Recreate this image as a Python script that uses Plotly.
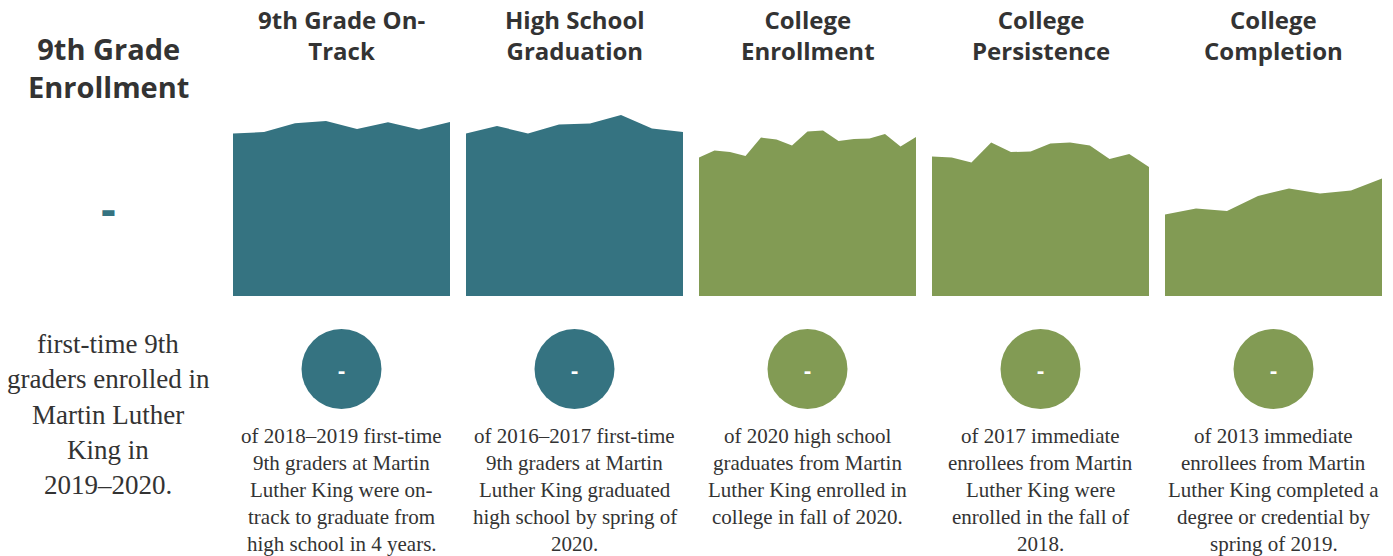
import plotly.graph_objects as go

W, H = 1393, 556

titles = [["9th Grade On-", "Track"], ["High School", "Graduation"], ["College", "Enrollment"],
          ["College", "Persistence"], ["College", "Completion"]]
on_track = [81.2, 82.0, 86.4, 87.5, 83.5, 86.9, 83.2, 87.0]
hs_grad = [81.2, 85.0, 81.3, 85.8, 86.3, 90.5, 83.8, 82.0]
col_enroll = [69.3, 72.8, 72.0, 70.0, 79.2, 78.3, 75.2, 82.2, 82.7, 77.5, 78.5, 78.7, 81.0, 74.8, 79.5]
col_persist = [69.7, 69.3, 66.7, 76.7, 72.0, 72.2, 76.2, 76.8, 75.2, 68.5, 71.0, 64.5]
col_complete = [40.8, 43.8, 42.5, 50.0, 53.8, 51.2, 52.8, 58.7]
series = [on_track, hs_grad, col_enroll, col_persist, col_complete]
circle_values = ["-", "-", "-", "-", "-"]
descriptions = [
    ["of 2018–2019 first-time", "9th graders at Martin", "Luther King were on-", "track to graduate from", "high school in 4 years."],
    ["of 2016–2017 first-time", "9th graders at Martin", "Luther King graduated", "high school by spring of", "2020."],
    ["of 2020 high school", "graduates from Martin", "Luther King enrolled in", "college in fall of 2020."],
    ["of 2017 immediate", "enrollees from Martin", "Luther King were", "enrolled in the fall of", "2018."],
    ["of 2013 immediate", "enrollees from Martin", "Luther King completed a", "degree or credential by", "spring of 2019."],
]
left_title = ["9th Grade", "Enrollment"]
left_value = "-"
left_text = ["first-time 9th", "graders enrolled in", "Martin Luther", "King in", "2019–2020."]

TEAL = "#357381"
GREEN = "#829b54"
colors = [TEAL, TEAL, GREEN, GREEN, GREEN]
TEXT = "#333333"
SANS = "Open Sans"
SERIF = "Liberation Serif"

# layout geometry (pixels)
panel_left = [233, 466, 699, 932, 1165]
panel_w = 217
plot_top, plot_bottom = 96, 296

fig = go.Figure()
annotations = []
shapes = []

def px(x):
    return x / W

def py(y):
    return 1 - y / H

def label(x, y, text, family, size, color, bold=False):
    annotations.append(dict(x=px(x), y=py(y), xref="paper", yref="paper",
                            text=f"<b>{text}</b>" if bold else text,
                            showarrow=False, xanchor="center", yanchor="middle",
                            font=dict(family=family, size=size, color=color)))

for i, vals in enumerate(series):
    n = str(i + 1) if i else ""
    fig.add_trace(go.Scatter(
        x=list(range(len(vals))), y=vals, mode="lines", fill="tozeroy",
        line=dict(width=0, color=colors[i]), fillcolor=colors[i],
        hoverinfo="skip", showlegend=False,
        xaxis="x" + n, yaxis="y" + n))
    x0 = panel_left[i]
    fig.layout["xaxis" + n] = dict(domain=[px(x0), px(x0 + panel_w)], range=[0, len(vals) - 1],
                                   visible=False, fixedrange=True, anchor="y" + n)
    fig.layout["yaxis" + n] = dict(domain=[py(plot_bottom), py(plot_top)], range=[0, 100],
                                   visible=False, fixedrange=True, anchor="x" + n)
    cx = x0 + panel_w / 2
    label(cx, 35, "<br>".join(titles[i]), SANS, 24, TEXT, bold=True)
    cy, r = 369, 40
    shapes.append(dict(type="circle", xref="paper", yref="paper",
                       x0=px(cx - r), x1=px(cx + r), y0=py(cy + r), y1=py(cy - r),
                       fillcolor=colors[i], line=dict(width=0)))
    label(cx, cy, circle_values[i], SANS, 22, "white", bold=True)
    for j, line in enumerate(descriptions[i]):
        label(cx, 436 + 27 * j, line, SERIF, 21, TEXT)

# left column
lx = 108
label(lx, 67, "<br>".join(left_title), SANS, 29, TEXT, bold=True)
label(lx, 208, left_value, SANS, 46, TEAL, bold=True)
for j, line in enumerate(left_text):
    label(lx, 344 + 35.3 * j, line, SERIF, 27, TEXT)

fig.update_layout(width=W, height=H, margin=dict(l=0, r=0, t=0, b=0),
                  paper_bgcolor="white", plot_bgcolor="white",
                  annotations=annotations, shapes=shapes)
fig.write_html("out.html", config={"displayModeBar": False},
               post_script="document.body.style.margin='0';document.body.style.padding='0';")
